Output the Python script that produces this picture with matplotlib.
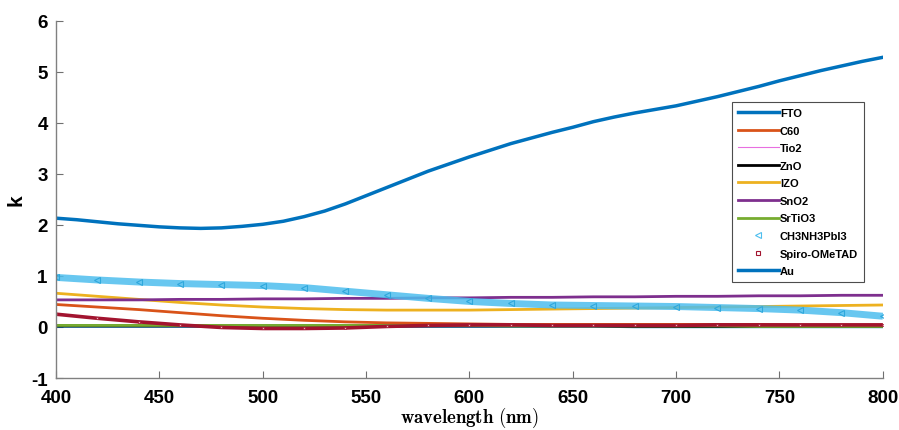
import matplotlib

matplotlib.use("Agg")
import matplotlib.pyplot as plt
from matplotlib.lines import Line2D
import numpy as np

plt.rcParams["font.family"] = ["Liberation Sans", "DejaVu Sans"]
plt.rcParams["mathtext.fontset"] = "cm"
plt.rcParams["axes.unicode_minus"] = False

# wavelength grid (nm) and extinction coefficient k for each layer
wavelength = [400, 420, 440, 460, 480, 500, 520, 540, 560, 580, 600,
              620, 640, 660, 680, 700, 720, 740, 760, 780, 800]
wavelength_au = [400, 410, 420, 430, 440, 450, 460, 470, 480, 490, 500,
                 510, 520, 530, 540, 550, 560, 570, 580, 590, 600,
                 610, 620, 630, 640, 650, 660, 670, 680, 690, 700,
                 710, 720, 730, 740, 750, 760, 770, 780, 790, 800]

k_fto = [0.02, 0.02, 0.02, 0.02, 0.02, 0.02, 0.02, 0.02, 0.02, 0.02, 0.02,
         0.02, 0.02, 0.02, 0.01, 0.01, 0.01, 0.01, 0.01, 0.01, 0.01]
k_c60 = [0.44, 0.39, 0.34, 0.28, 0.22, 0.17, 0.13, 0.10, 0.08, 0.07, 0.06,
         0.05, 0.05, 0.05, 0.05, 0.05, 0.05, 0.05, 0.04, 0.04, 0.04]
k_tio2 = [0.02, 0.02, 0.02, 0.02, 0.02, 0.02, 0.02, 0.02, 0.02, 0.02, 0.02,
          0.02, 0.02, 0.02, 0.01, 0.01, 0.01, 0.01, 0.01, 0.01, 0.01]
k_zno = [0.02, 0.02, 0.02, 0.02, 0.02, 0.02, 0.02, 0.02, 0.02, 0.02, 0.02,
         0.02, 0.02, 0.02, 0.01, 0.01, 0.01, 0.01, 0.01, 0.01, 0.01]
k_izo = [0.66, 0.60, 0.54, 0.48, 0.43, 0.39, 0.36, 0.34, 0.33, 0.33, 0.33,
         0.34, 0.35, 0.36, 0.37, 0.38, 0.39, 0.40, 0.41, 0.42, 0.43]
k_sno2 = [0.53, 0.53, 0.53, 0.54, 0.54, 0.55, 0.55, 0.56, 0.56, 0.57, 0.57,
          0.58, 0.58, 0.59, 0.59, 0.60, 0.60, 0.61, 0.61, 0.62, 0.62]
k_srtio3 = [0.03, 0.03, 0.03, 0.03, 0.03, 0.03, 0.03, 0.03, 0.03, 0.03, 0.03,
            0.02, 0.02, 0.02, 0.02, 0.02, 0.02, 0.01, 0.01, 0.01, 0.01]
k_perovskite = [0.97, 0.92, 0.88, 0.85, 0.83, 0.81, 0.77, 0.70, 0.63, 0.56, 0.50,
                0.46, 0.43, 0.42, 0.41, 0.40, 0.38, 0.36, 0.33, 0.28, 0.21]
k_spiro = [0.25, 0.17, 0.10, 0.04, -0.01, -0.03, -0.03, -0.02, 0.01, 0.03, 0.04,
           0.04, 0.03, 0.03, 0.03, 0.03, 0.04, 0.04, 0.04, 0.04, 0.04]
k_au = [2.13, 2.10, 2.06, 2.02, 1.99, 1.96, 1.94, 1.93, 1.94, 1.97, 2.01,
        2.07, 2.16, 2.27, 2.41, 2.57, 2.73, 2.89, 3.05, 3.19, 3.33,
        3.46, 3.59, 3.70, 3.81, 3.91, 4.02, 4.11, 4.19, 4.26, 4.33,
        4.42, 4.51, 4.61, 4.71, 4.82, 4.92, 5.02, 5.11, 5.20, 5.28]

LINE_SERIES = [
    ("FTO", k_fto, "#0072BD", 2.5),
    ("C60", k_c60, "#D95319", 2.0),
    ("Tio2", k_tio2, "#E86FE0", 0.8),
    ("ZnO", k_zno, "#000000", 2.0),
    ("IZO", k_izo, "#EDB120", 2.0),
    ("SnO2", k_sno2, "#7E2F8E", 2.0),
    ("SrTiO3", k_srtio3, "#77AC30", 2.0),
]

fig = plt.figure(figsize=(8.99, 4.31), dpi=100)
ax = fig.add_axes([0.0623, 0.1206, 0.9197, 0.8294])

x = np.array(wavelength, dtype=float)
handles = []
for label, values, color, lw in LINE_SERIES:
    (h,) = ax.plot(x, values, color=color, linewidth=lw, label=label)
    handles.append(h)

# marker series: dense band plus open markers
cyan = "#4DBEEE"
ax.plot(x, k_perovskite, color=cyan, linewidth=5, alpha=0.85, solid_capstyle="butt")
ax.plot(x, k_perovskite, linestyle="none", marker="<", markersize=5,
        markerfacecolor="none", markeredgecolor="#2FA8DC", markeredgewidth=0.8)
handles.append(Line2D([], [], linestyle="none", marker="<", markersize=4,
                      markerfacecolor="none", markeredgecolor=cyan,
                      markeredgewidth=0.8, label="CH3NH3PbI3"))

brown = "#A2142F"
ax.plot(x, k_spiro, color=brown, linewidth=2.6, solid_capstyle="butt")
ax.plot(x, k_spiro, linestyle="none", marker="s", markersize=2,
        markerfacecolor="#E8B0B8", markeredgecolor=brown, markeredgewidth=0.5)
handles.append(Line2D([], [], linestyle="none", marker="s", markersize=3,
                      markerfacecolor="none", markeredgecolor=brown,
                      markeredgewidth=0.8, label="Spiro-OMeTAD"))

(h_au,) = ax.plot(wavelength_au, k_au, color="#0072BD", linewidth=2.5, label="Au")
handles.append(h_au)

ax.set_xlim(400, 800)
ax.set_ylim(-1, 6)
ax.set_xticks(np.arange(400, 801, 50))
ax.set_yticks(np.arange(-1, 7, 1))
ax.tick_params(direction="in", length=5, width=0.8, color="#707070",
               labelsize=13.5)
ax.tick_params(axis="x", pad=8)
ax.tick_params(axis="y", pad=6)
for lab in ax.get_xticklabels() + ax.get_yticklabels():
    lab.set_fontweight("bold")
for side in ("top", "right"):
    ax.spines[side].set_visible(False)
for side in ("left", "bottom"):
    ax.spines[side].set_color("#808080")
    ax.spines[side].set_linewidth(1.0)

ax.set_ylabel("k", fontsize=15, fontweight="bold", labelpad=4)
ax.set_xlabel(r"$\mathbf{wavelength\ (nm)}$", fontsize=13.5, labelpad=-1)

leg = ax.legend(handles=handles, loc="upper left", bbox_to_anchor=(0.817, 0.772),
                prop={"weight": "bold", "size": 8}, frameon=True, fancybox=False,
                handlelength=3.7, handletextpad=0.1, labelspacing=0.68,
                borderpad=0.55, borderaxespad=0)
leg.get_frame().set_edgecolor("#202020")
leg.get_frame().set_linewidth(0.8)

fig.savefig("out.png", dpi=100)
